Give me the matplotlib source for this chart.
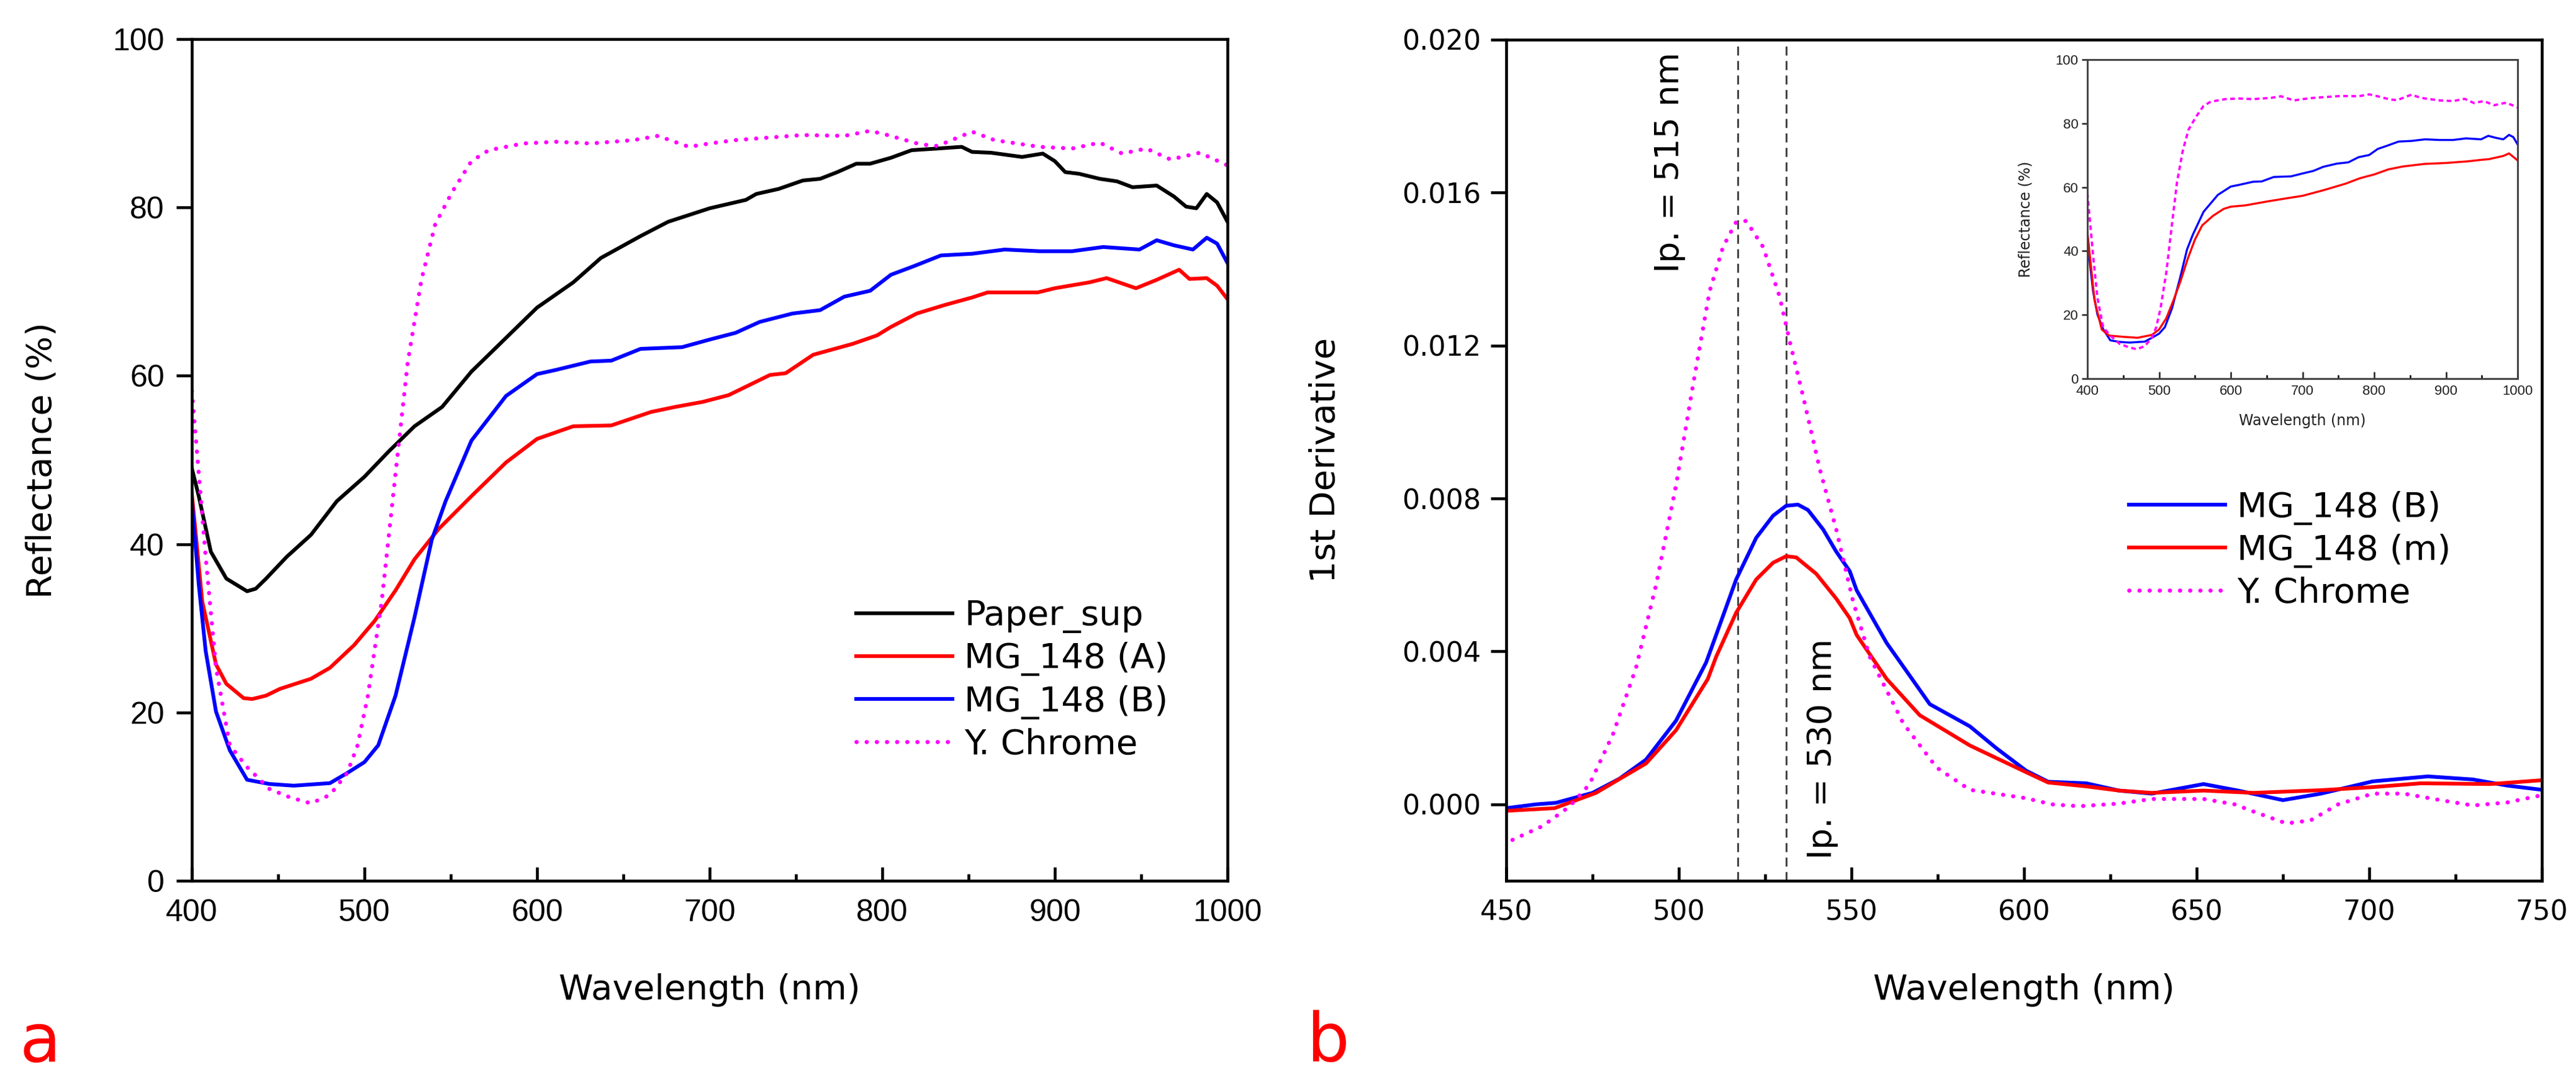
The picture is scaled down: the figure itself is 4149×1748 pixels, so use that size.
import matplotlib
matplotlib.use("Agg")
import matplotlib.pyplot as plt
from matplotlib import font_manager
from matplotlib.ticker import MultipleLocator

# ---------------- data ----------------
# Panel a: reflectance (%)
paper_wl = [400, 404, 411, 420, 432, 437, 443, 455, 469, 484, 500, 514, 529, 545, 562, 582,
            600, 621, 637, 660, 676, 700, 721, 727, 740, 754, 764, 774, 785, 793, 805, 817,
            832, 846, 852, 863, 881, 893, 900, 906, 914, 926, 936, 945, 959, 969, 976, 982,
            988, 994, 1000]
paper_r = [49.0, 45.7, 39.1, 35.9, 34.4, 34.7, 35.9, 38.5, 41.1, 45.1, 48.0, 51.0, 54.0, 56.3,
           60.5, 64.5, 68.1, 71.1, 74.0, 76.6, 78.3, 79.9, 80.9, 81.6, 82.2, 83.2, 83.4, 84.2,
           85.2, 85.2, 85.9, 86.8, 87.0, 87.2, 86.6, 86.5, 86.0, 86.4, 85.5, 84.2, 84.0, 83.4,
           83.1, 82.4, 82.6, 81.3, 80.1, 79.9, 81.6, 80.6, 78.3]

mga_wl = [400, 406, 414, 420, 430, 435, 443, 451, 469, 480, 494, 506, 518, 529, 543, 562,
          582, 600, 621, 643, 666, 680, 696, 711, 735, 744, 760, 783, 797, 805, 820, 836,
          852, 861, 890, 900, 920, 930, 947, 959, 972, 978, 988, 994, 1000]
mga_r = [46.0, 33.2, 25.7, 23.4, 21.7, 21.6, 22.0, 22.8, 24.0, 25.3, 28.0, 30.9, 34.5, 38.2,
         41.8, 45.7, 49.7, 52.5, 54.0, 54.1, 55.7, 56.3, 56.9, 57.7, 60.1, 60.3, 62.5, 63.8,
         64.8, 65.8, 67.4, 68.4, 69.3, 69.9, 69.9, 70.4, 71.1, 71.6, 70.4, 71.4, 72.6, 71.5,
         71.6, 70.7, 69.1]

mgb_wl = [400, 404, 408, 414, 422, 432, 445, 459, 480, 490, 500, 508, 518, 529, 539, 547,
          562, 582, 600, 611, 631, 643, 660, 684, 700, 715, 729, 748, 764, 778, 793, 805,
          818, 834, 852, 871, 891, 910, 928, 949, 959, 969, 980, 988, 994, 1000]
mgb_r = [45.1, 35.2, 27.3, 20.1, 15.5, 12.0, 11.5, 11.3, 11.6, 12.8, 14.1, 16.1, 22.0, 31.3,
         40.5, 45.1, 52.3, 57.6, 60.2, 60.7, 61.7, 61.8, 63.2, 63.4, 64.3, 65.1, 66.4, 67.4,
         67.8, 69.4, 70.1, 72.0, 73.0, 74.3, 74.5, 75.0, 74.8, 74.8, 75.3, 75.0, 76.1, 75.5,
         75.0, 76.4, 75.7, 73.4]

ych_wl = [400, 404, 408, 414, 422, 432, 445, 457, 469, 480, 490, 496, 502, 510, 518, 525,
          533, 541, 551, 562, 572, 592, 611, 631, 656, 670, 688, 700, 715, 754, 778, 793,
          803, 822, 832, 852, 865, 891, 910, 926, 939, 953, 967, 984, 1000]
ych_r = [58.2, 48.4, 38.5, 25.3, 16.1, 13.5, 10.9, 9.9, 9.2, 10.2, 12.8, 16.1, 22.0, 33.2,
         48.4, 61.5, 71.4, 78.0, 81.9, 85.5, 86.8, 87.6, 87.8, 87.6, 88.0, 88.5, 87.2, 87.6,
         88.0, 88.6, 88.5, 89.1, 88.6, 87.5, 87.3, 89.0, 88.0, 87.2, 87.0, 87.7, 86.4, 87.0,
         85.7, 86.5, 85.0]

# Inset: MG_148 (m) reflectance (blue and Y. Chrome reuse the panel a series)
mgm_wl = [400, 410, 420, 430, 450, 470, 490, 500, 510, 520, 530, 540, 550, 560, 575, 590,
          600, 620, 650, 680, 700, 730, 760, 780, 800, 820, 840, 870, 900, 930, 950, 960,
          980, 988, 1000]
mgm_r = [46.0, 24.5, 15.4, 13.5, 13.1, 12.8, 13.7, 15.4, 18.9, 24.5, 30.6, 37.6, 43.6, 48.0,
         51.0, 53.2, 53.9, 54.3, 55.5, 56.6, 57.3, 59.1, 61.1, 62.8, 64.0, 65.6, 66.5, 67.3,
         67.6, 68.1, 68.6, 68.8, 69.8, 70.6, 68.4]

# Panel b: first derivative
db_wl = [450, 458.6, 464.4, 475, 482.8, 490.5, 499.2, 507.9, 510.8, 516.6, 522.4, 527.3,
         531.1, 534.5, 537.4, 541.8, 545.6, 549.5, 551.5, 560.2, 572.7, 584.3, 592.1, 600.6,
         607, 618, 627.5, 637, 652, 662, 675, 686, 701, 717, 730, 740, 750]
db_d = [-0.0001, 0.0, 0.00004, 0.0003, 0.00067, 0.00117, 0.00219, 0.00371, 0.00443, 0.00588,
        0.00697, 0.00755, 0.00781, 0.00784, 0.0077, 0.00719, 0.00661, 0.0061, 0.0056, 0.00422,
        0.00262, 0.00204, 0.00146, 0.00088, 0.00059, 0.00055, 0.00036, 0.00028, 0.00053,
        0.00036, 0.00011, 0.00028, 0.0006, 0.00073, 0.00065, 0.00049, 0.00038]

dm_wl = [450, 464, 476, 490.5, 499.2, 508.4, 510.8, 516.6, 522.4, 527.3, 531.1, 534, 539.8,
         545.6, 549.5, 551.5, 560.2, 569.8, 584.3, 600.6, 607, 618, 627.5, 637, 652, 666.5,
         686, 701, 715, 735, 750]
dm_d = [-0.00017, -0.0001, 0.0003, 0.00107, 0.00194, 0.00328, 0.00386, 0.00501, 0.00588,
        0.00632, 0.00649, 0.00646, 0.00603, 0.00538, 0.00487, 0.00443, 0.00328, 0.00233,
        0.00154, 0.00084, 0.00057, 0.00047, 0.00036, 0.0003, 0.00036, 0.0003, 0.00037,
        0.00045, 0.00055, 0.00053, 0.00063]

dy_wl = [451.8, 460.5, 468.3, 474.1, 480.9, 487.6, 493.4, 499.2, 504.1, 508.9, 512.8, 516.6,
         519.5, 524.4, 529.2, 532.1, 536, 540.8, 545.6, 550.5, 555.3, 565, 574.7, 584.3, 600.6,
         608, 616, 627.5, 637, 652, 661, 666.5, 676, 683, 691, 701, 710, 720, 730, 740, 750]
dy_d = [-0.00093, -0.00057, -0.00006, 0.00052, 0.00183, 0.00357, 0.00574, 0.00835, 0.01096,
        0.01342, 0.01458, 0.01523, 0.01526, 0.01458, 0.01328, 0.01212, 0.01067, 0.00878,
        0.00719, 0.0053, 0.00386, 0.00212, 0.00096, 0.00038, 0.00016, 0.0, -0.00005, 0.00002,
        0.00014, 0.00014, 0.0, -0.00019, -0.0005, -0.00042, 0.0, 0.00028, 0.00028, 0.00012,
        -0.00003, 0.00005, 0.00024]

inflection_wl = [517.1, 531.2]

a_xticks = [400, 500, 600, 700, 800, 900, 1000]
a_yticks = [0, 20, 40, 60, 80, 100]
b_xticks = [450, 500, 550, 600, 650, 700, 750]
b_yticks = [0.000, 0.004, 0.008, 0.012, 0.016, 0.020]

# ---------------- style ----------------
names = {f.name for f in font_manager.fontManager.ttflist}
ARIAL = 'Liberation Sans' if 'Liberation Sans' in names else 'DejaVu Sans'
plt.rcParams['font.family'] = ['DejaVu Sans']

W, H, DPI = 4149, 1748, 300
fig = plt.figure(figsize=(W / DPI, H / DPI), dpi=DPI)

def frac_rect(l, r, t, b):
    return [l / W, 1 - b / H, (r - l) / W, (b - t) / H]

RED, BLUE, MAG = '#ff0000', '#0000ff', '#ff00ff'
LW = 1.45
SPW = 1.1
DOT = dict(lw=1.6, linestyle=(0, (0.05, 2.4)), dash_capstyle='round')

def style_main(ax, tickfont, ticksize, ypad):
    for s in ax.spines.values():
        s.set_linewidth(SPW)
    ax.tick_params(axis='x', which='major', direction='in', length=5.3, width=SPW,
                   pad=7, labelsize=ticksize, top=False)
    ax.tick_params(axis='x', which='minor', direction='in', length=2.7, width=SPW, top=False)
    ax.tick_params(axis='y', which='major', direction='out', length=6, width=SPW,
                   pad=ypad, labelsize=ticksize, right=False)
    ax.tick_params(axis='y', which='minor', left=False, right=False)
    for lab in ax.get_xticklabels() + ax.get_yticklabels():
        lab.set_fontfamily(tickfont)

# ---------------- panel a ----------------
axa = fig.add_axes(frac_rect(309, 1977, 63, 1419))
axa.plot(paper_wl, paper_r, color='black', lw=LW, label='Paper_sup')
axa.plot(mga_wl, mga_r, color=RED, lw=LW, label='MG_148 (A)')
axa.plot(mgb_wl, mgb_r, color=BLUE, lw=LW, label='MG_148 (B)')
axa.plot(ych_wl, ych_r, color=MAG, label='Y. Chrome', **DOT)
axa.set_xlim(400, 1000)
axa.set_ylim(0, 100)
axa.set_xticks(a_xticks)
axa.set_yticks(a_yticks)
axa.xaxis.set_minor_locator(MultipleLocator(50))
style_main(axa, ARIAL, 12, 4.6)
axa.set_xlabel('Wavelength (nm)', fontsize=13.5)
axa.set_ylabel('Reflectance (%)', fontsize=13.5)
axa.xaxis.set_label_coords(0.5, -0.13)
axa.xaxis.label.set_va('center')
axa.yaxis.set_label_coords(-0.145, 0.5)
axa.yaxis.label.set_va('center')

fig.legend(handles=axa.get_lines(), loc='center left',
           bbox_to_anchor=(1379 / W, 1 - 1096 / H), bbox_transform=fig.transFigure,
           frameon=False, fontsize=13.5, handlelength=2.75, handletextpad=0.35,
           labelspacing=0.25, borderpad=0, borderaxespad=0)

# ---------------- panel b ----------------
axb = fig.add_axes(frac_rect(2426, 4094, 64, 1419))
lb, = axb.plot(db_wl, db_d, color=BLUE, lw=LW, label='MG_148 (B)')
lm, = axb.plot(dm_wl, dm_d, color=RED, lw=LW, label='MG_148 (m)')
ly, = axb.plot(dy_wl, dy_d, color=MAG, label='Y. Chrome', **DOT)
for xv in inflection_wl:
    axb.axvline(xv, color='#404040', lw=0.7, linestyle=(0, (5, 3)), zorder=1)
axb.set_xlim(450, 750)
axb.set_ylim(-0.002, 0.020)
axb.set_xticks(b_xticks)
axb.set_yticks(b_yticks)
axb.set_yticklabels([f'{v:.3f}' for v in b_yticks])
axb.xaxis.set_minor_locator(MultipleLocator(25))
style_main(axb, 'DejaVu Sans', 10.7, 3.8)
axb.set_xlabel('Wavelength (nm)', fontsize=13.5)
axb.set_ylabel('1st Derivative', fontsize=13.5)
axb.xaxis.set_label_coords(0.5, -0.13)
axb.xaxis.label.set_va('center')
axb.yaxis.set_label_coords(-0.1745, 0.5)
axb.yaxis.label.set_va('center')
axb.text(497.3, 0.0168, 'Ip. = 515 nm', rotation=90, ha='center', va='center', fontsize=13)
axb.text(541.6, 0.00145, 'Ip. = 530 nm', rotation=90, ha='center', va='center', fontsize=13)

fig.legend(handles=[lb, lm, ly], loc='center left',
           bbox_to_anchor=(3429 / W, 1 - 887 / H), bbox_transform=fig.transFigure,
           frameon=False, fontsize=13.5, handlelength=2.75, handletextpad=0.35,
           labelspacing=0.25, borderpad=0, borderaxespad=0)

# ---------------- inset ----------------
axi = fig.add_axes(frac_rect(3362, 4055, 96, 610))
axi.plot(mgb_wl, mgb_r, color=BLUE, lw=0.8)
axi.plot(mgm_wl, mgm_r, color=RED, lw=0.8)
axi.plot(ych_wl, ych_r, color=MAG, lw=0.9, linestyle=(0, (2, 1.5)))
axi.set_xlim(400, 1000)
axi.set_ylim(0, 100)
axi.set_xticks(a_xticks)
axi.set_yticks(a_yticks)
axi.xaxis.set_minor_locator(MultipleLocator(50))
for s in axi.spines.values():
    s.set_linewidth(0.7)
    s.set_color('#404040')
axi.tick_params(axis='x', which='major', direction='in', length=2.6, width=0.6, pad=2.5,
                labelsize=5.3, colors='#202020')
axi.tick_params(axis='x', which='minor', direction='in', length=1.4, width=0.6)
axi.tick_params(axis='y', which='major', direction='out', length=2.2, width=0.6, pad=1.2,
                labelsize=5.3, colors='#202020')
for lab in axi.get_xticklabels() + axi.get_yticklabels():
    lab.set_fontfamily(ARIAL)
axi.set_xlabel('Wavelength (nm)', fontsize=5.7, color='#202020')
axi.set_ylabel('Reflectance (%)', fontsize=5.7, color='#202020')
axi.xaxis.set_label_coords(0.5, -0.132)
axi.xaxis.label.set_va('center')
axi.yaxis.set_label_coords(-0.144, 0.5)
axi.yaxis.label.set_va('center')

# ---------------- panel letters ----------------
fig.text(31 / W, 1 - 1710 / H, 'a', color=RED, fontsize=26, ha='left', va='baseline')
fig.text(2104 / W, 1 - 1710 / H, 'b', color=RED, fontsize=26, ha='left', va='baseline')

fig.savefig('out.png', dpi=DPI)
